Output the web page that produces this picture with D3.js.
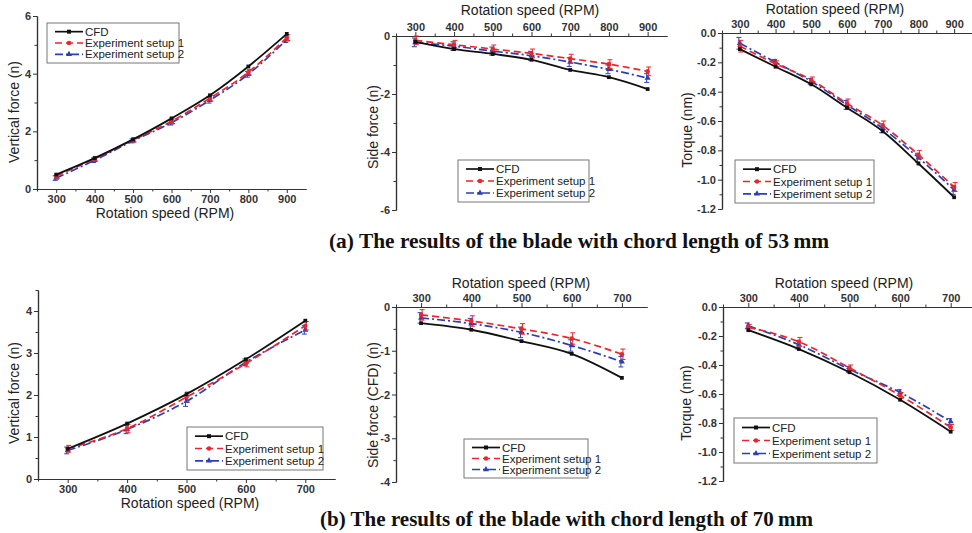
<!DOCTYPE html>
<html>
<head>
<meta charset="utf-8">
<script src="https://cdn.jsdelivr.net/npm/d3@7"></script>
<style>
body { margin: 0; background: #fff; }
.tick text { font-family: Arial, "Liberation Sans", sans-serif; font-size: 11px; font-weight: bold; fill: #333; }
.axisLabel { font-family: Arial, "Liberation Sans", sans-serif; font-size: 14px; fill: #222; }
.legText { font-family: Arial, "Liberation Sans", sans-serif; font-size: 11.5px; fill: #222; }
.caption { font-family: "Liberation Serif", "Times New Roman", serif; font-size: 21px; font-weight: bold; fill: #111; }
</style>
</head>
<body>
<div id="chart"></div>
<script>
// rotation speeds
var rpmA = [300, 400, 500, 600, 700, 800, 900];
var rpmB = [300, 400, 500, 600, 700];

// (a) chord 53 mm
var vertCfdA = [0.50, 1.07, 1.72, 2.45, 3.25, 4.25, 5.38];
var vertExp1A = [0.45, 1.05, 1.70, 2.35, 3.15, 4.05, 5.25];
var vertExp2A = [0.38, 1.00, 1.67, 2.30, 3.08, 3.98, 5.18];
var vertErrA = [0.08, 0.08, 0.07, 0.08, 0.10, 0.10, 0.10];

var sideCfdA = [-0.20, -0.45, -0.62, -0.82, -1.17, -1.42, -1.83];
var sideExp1A = [-0.15, -0.30, -0.45, -0.60, -0.78, -0.97, -1.22];
var sideExp2A = [-0.22, -0.35, -0.52, -0.68, -0.90, -1.15, -1.45];
var sideErrA = [0.15, 0.15, 0.14, 0.15, 0.15, 0.15, 0.15];

var torqCfdA = [-0.11, -0.23, -0.35, -0.51, -0.67, -0.89, -1.12];
var torqExp1A = [-0.09, -0.21, -0.32, -0.48, -0.63, -0.83, -1.05];
var torqExp2A = [-0.07, -0.20, -0.33, -0.49, -0.65, -0.85, -1.07];
var torqErrA = [0.04, 0.02, 0.02, 0.03, 0.03, 0.03, 0.03];

// (b) chord 70 mm
var vertCfdB = [0.72, 1.32, 2.02, 2.85, 3.77];
var vertExp1B = [0.72, 1.20, 1.95, 2.75, 3.65];
var vertExp2B = [0.68, 1.18, 1.85, 2.78, 3.55];
var vertErrB = [0.08, 0.10, 0.12, 0.08, 0.10];

var sideCfdB = [-0.37, -0.52, -0.78, -1.07, -1.62];
var sideExp1B = [-0.18, -0.32, -0.50, -0.72, -1.08];
var sideExp2B = [-0.25, -0.38, -0.58, -0.88, -1.25];
var sideErrB = [0.12, 0.12, 0.12, 0.13, 0.12];

var torqCfdB = [-0.16, -0.29, -0.45, -0.64, -0.86];
var torqExp1B = [-0.14, -0.24, -0.42, -0.61, -0.83];
var torqExp2B = [-0.13, -0.26, -0.43, -0.59, -0.79];
var torqErrB = [0.02, 0.03, 0.02, 0.02, 0.02];

var seriesNames = ["CFD", "Experiment setup 1", "Experiment setup 2"];
var seriesColors = ["#111111", "#e8262b", "#2b3fb5"];
var seriesDash = [null, "7,4", "8,3,2,3"];
var seriesSymbols = [d3.symbolSquare, d3.symbolCircle, d3.symbolTriangle];

var svg = d3.select("#chart").append("svg")
    .attr("width", 972)
    .attr("height", 533);

function fmt(d) {
    return String(d);
}
function fmt1(d) {
    return d.toFixed(1).replace("-0.0", "0.0");
}

// one panel of the figure
function drawPanel(p) {
    var g = svg.append("g");
    var x = d3.scaleLinear().domain(p.xDomain).range(p.xRange);
    var y = d3.scaleLinear().domain(p.yDomain).range(p.yRange);

    var xAxisY = p.top ? p.yRange[1] : p.yRange[0];
    var xAxis = p.top ? d3.axisTop(x) : d3.axisBottom(x);
    var xMinor = p.top ? d3.axisTop(x) : d3.axisBottom(x);

    g.append("g")
        .attr("transform", `translate(0, ${xAxisY})`)
        .call(xMinor.tickValues(d3.range(p.xDomain[0] + 100, p.xDomain[1], 100).concat(p.xDomain[0]))
            .tickSize(2.5).tickFormat("").tickSizeOuter(0));
    g.append("g")
        .attr("transform", `translate(0, ${xAxisY})`)
        .call(xAxis.tickValues(p.xTicks).tickSize(4).tickSizeOuter(0).tickPadding(p.top ? 1 : 2).tickFormat(fmt));

    g.append("g")
        .attr("transform", `translate(${p.xRange[0]}, 0)`)
        .call(d3.axisLeft(y).tickValues(p.yMinor).tickSize(2.5).tickFormat("").tickSizeOuter(0));
    g.append("g")
        .attr("transform", `translate(${p.xRange[0]}, 0)`)
        .call(d3.axisLeft(y).tickValues(p.yTicks).tickSize(4).tickSizeOuter(0).tickPadding(2).tickFormat(p.yFmt));

    g.selectAll(".domain").attr("stroke", "#333").attr("stroke-width", 1.2);
    g.selectAll(".tick line").attr("stroke", "#333");

    // axis titles
    g.append("text")
        .attr("class", "axisLabel")
        .attr("x", p.xLabel[0])
        .attr("y", p.xLabel[1])
        .attr("text-anchor", "middle")
        .text("Rotation speed (RPM)");
    g.append("text")
        .attr("class", "axisLabel")
        .attr("transform", `translate(${p.yLabel[0]}, ${p.yLabel[1]}) rotate(-90)`)
        .attr("text-anchor", "middle")
        .text(p.yTitle);

    var line = d3.line()
        .x(d => x(d.rpm))
        .y(d => y(d.v))
        .curve(d3.curveMonotoneX);

    // draw the experiments first, CFD on top
    [2, 1, 0].forEach(function(k) {
        var pts = p.rpm.map((r, i) => ({rpm: r, v: p.series[k][i], e: k > 0 ? p.err[i] : 0}));
        if (k > 0) {
            var eb = g.append("g").attr("stroke", seriesColors[k]).attr("stroke-width", 1);
            pts.forEach(function(d) {
                var xx = x(d.rpm) + (k === 1 ? 1 : -1);
                eb.append("line").attr("x1", xx).attr("x2", xx)
                    .attr("y1", y(d.v - d.e)).attr("y2", y(d.v + d.e));
                eb.append("line").attr("x1", xx - 2.5).attr("x2", xx + 2.5)
                    .attr("y1", y(d.v - d.e)).attr("y2", y(d.v - d.e));
                eb.append("line").attr("x1", xx - 2.5).attr("x2", xx + 2.5)
                    .attr("y1", y(d.v + d.e)).attr("y2", y(d.v + d.e));
            });
        }
        g.append("path")
            .datum(pts)
            .attr("fill", "none")
            .attr("stroke", seriesColors[k])
            .attr("stroke-width", k === 0 ? 1.8 : 1.7)
            .attr("stroke-dasharray", seriesDash[k])
            .attr("d", line);
        g.selectAll(".pt" + k)
            .data(pts)
            .enter()
            .append("path")
            .attr("transform", d => `translate(${x(d.rpm)}, ${y(d.v)})`)
            .attr("d", d3.symbol().type(seriesSymbols[k]).size(k === 0 ? 14 : 16))
            .attr("fill", seriesColors[k]);
    });

    // legend
    var lg = g.append("g").attr("transform", `translate(${p.legend[0]}, ${p.legend[1]})`);
    lg.append("rect")
        .attr("width", p.legend[2])
        .attr("height", p.legend[3])
        .attr("fill", "#fff")
        .attr("stroke", "#777")
        .attr("stroke-width", 1);
    var rowH = (p.legend[3] - 6) / 3;
    seriesNames.forEach(function(name, k) {
        var cy = 3 + rowH * (k + 0.5);
        lg.append("line")
            .attr("x1", 8).attr("x2", 36)
            .attr("y1", cy).attr("y2", cy)
            .attr("stroke", seriesColors[k])
            .attr("stroke-width", 1.7)
            .attr("stroke-dasharray", seriesDash[k]);
        lg.append("path")
            .attr("transform", `translate(22, ${cy})`)
            .attr("d", d3.symbol().type(seriesSymbols[k]).size(16))
            .attr("fill", seriesColors[k]);
        lg.append("text")
            .attr("class", "legText")
            .attr("x", 38)
            .attr("y", cy + 4)
            .text(name);
    });
}

var panels = [
    {rpm: rpmA, series: [vertCfdA, vertExp1A, vertExp2A], err: vertErrA,
     xDomain: [250, 950], xRange: [37, 306], yDomain: [0, 6], yRange: [189, 16], top: false,
     xTicks: rpmA, yTicks: [0, 2, 4, 6], yMinor: [1, 3, 5], yFmt: fmt,
     xLabel: [165, 218], yLabel: [19, 112], yTitle: "Vertical force (n)", legend: [47, 23, 132, 40]},
    {rpm: rpmA, series: [sideCfdA, sideExp1A, sideExp2A], err: sideErrA,
     xDomain: [250, 950], xRange: [396, 667], yDomain: [-6, 0], yRange: [210, 36], top: true,
     xTicks: rpmA, yTicks: [0, -2, -4, -6], yMinor: [-1, -3, -5], yFmt: fmt,
     xLabel: [530, 15], yLabel: [378, 127], yTitle: "Side force (n)", legend: [458, 160, 131, 42]},
    {rpm: rpmA, series: [torqCfdA, torqExp1A, torqExp2A], err: torqErrA,
     xDomain: [250, 950], xRange: [722, 972], yDomain: [-1.2, 0], yRange: [209, 33], top: true,
     xTicks: rpmA, yTicks: d3.range(0, 7).map(i => -0.2 * i), yMinor: d3.range(0, 6).map(i => -0.1 - 0.2 * i), yFmt: fmt1,
     xLabel: [835, 14], yLabel: [692, 130], yTitle: "Torque (nm)", legend: [735, 160, 139, 43]},
    {rpm: rpmB, series: [vertCfdB, vertExp1B, vertExp2B], err: vertErrB,
     xDomain: [250, 750], xRange: [38, 335], yDomain: [0, 4.5], yRange: [479, 290], top: false,
     xTicks: rpmB, yTicks: [0, 1, 2, 3, 4], yMinor: [0.5, 1.5, 2.5, 3.5, 4.5], yFmt: fmt,
     xLabel: [190, 508], yLabel: [19, 393], yTitle: "Vertical force (n)", legend: [187, 427, 136, 43]},
    {rpm: rpmB, series: [sideCfdB, sideExp1B, sideExp2B], err: sideErrB,
     xDomain: [250, 750], xRange: [396, 647], yDomain: [-4, 0], yRange: [482, 307], top: true,
     xTicks: rpmB, yTicks: [0, -1, -2, -3, -4], yMinor: [-0.5, -1.5, -2.5, -3.5], yFmt: fmt,
     xLabel: [521, 288], yLabel: [378, 405], yTitle: "Side force (CFD) (n)", legend: [464, 439, 124, 39]},
    {rpm: rpmB, series: [torqCfdB, torqExp1B, torqExp2B], err: torqErrB,
     xDomain: [250, 750], xRange: [723, 976], yDomain: [-1.2, 0], yRange: [481, 307], top: true,
     xTicks: rpmB, yTicks: d3.range(0, 7).map(i => -0.2 * i), yMinor: d3.range(0, 6).map(i => -0.1 - 0.2 * i), yFmt: fmt1,
     xLabel: [844, 288], yLabel: [691, 403], yTitle: "Torque (nm)", legend: [734, 418, 143, 45]}
];

panels.forEach(drawPanel);

// figure captions
svg.append("text")
    .attr("class", "caption")
    .attr("x", 329)
    .attr("y", 248)
    .attr("textLength", 500)
    .attr("lengthAdjust", "spacingAndGlyphs")
    .text("(a) The results of the blade with chord length of 53\u2009mm");
svg.append("text")
    .attr("class", "caption")
    .attr("x", 320)
    .attr("y", 526)
    .attr("textLength", 493)
    .attr("lengthAdjust", "spacingAndGlyphs")
    .text("(b) The results of the blade with chord length of 70\u2009mm");
</script>
</body>
</html>
